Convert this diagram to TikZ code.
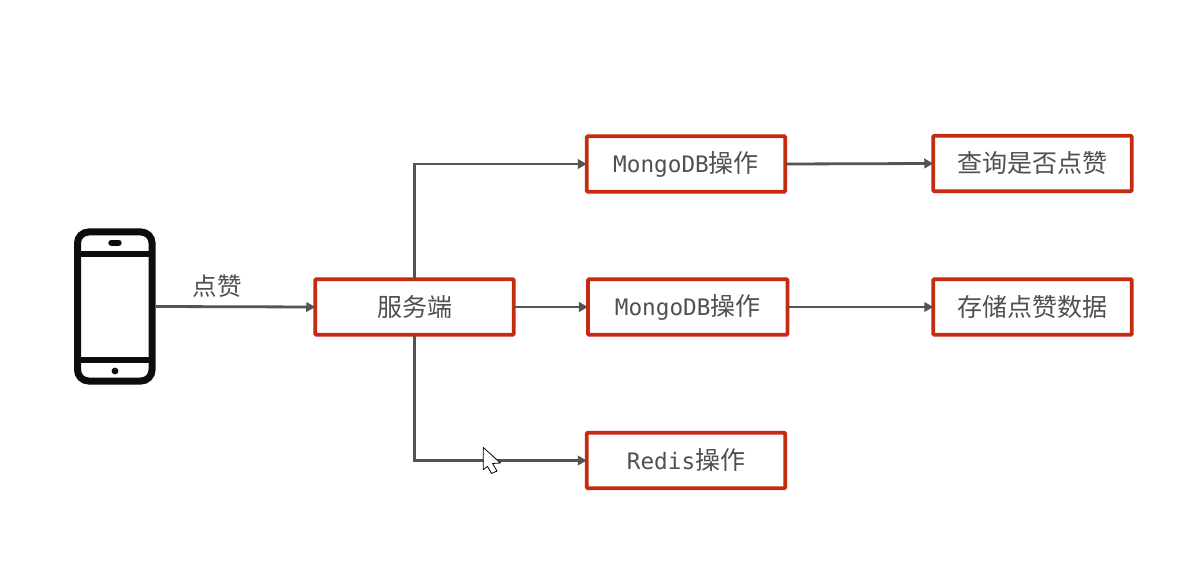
\documentclass[tikz,border=0pt]{standalone}
\usepackage{fontspec}
\setmainfont{Noto Sans CJK SC}
\newfontfamily\cjkf{Noto Sans CJK SC}
\setmonofont{DejaVu Sans Mono}
\usetikzlibrary{arrows.meta}
\definecolor{redb}{HTML}{C62A10}
\definecolor{linec}{HTML}{545454}
\definecolor{textc}{HTML}{505050}
\tikzset{
  box/.style={draw=redb,line width=3.8pt,fill=white,rounded corners=1pt,outer sep=0pt,inner sep=0pt,
    minimum width=198.5pt,minimum height=55.5pt,text=textc,font=\fontsize{25}{28}\selectfont},
  conn/.style={draw=linec,line width=2.8pt,-{Triangle[length=9pt,width=9.5pt]}},
  phonebar/.style={draw=black!95,line width=6.8pt}
}
\newcommand{\mono}[1]{{\ttfamily\fontsize{22.7}{28}\selectfont #1}}
\begin{document}
\begin{tikzpicture}[x=1pt,y=-1pt]
\useasboundingbox (0,0) rectangle (1178,564);
\fill[white] (0,0) rectangle (1178,564);
% phone
\node[draw=black!95,line width=7pt,rounded corners=11pt,minimum width=74.5pt,minimum height=149pt,outer sep=3.5pt,inner sep=0pt] (phone) at (114.8,306.5) {};
\coordinate (barAL) at (78,254);\coordinate (barAR) at (152,254);
\coordinate (barBL) at (78,360);\coordinate (barBR) at (152,360);
\draw[phonebar] (barAL) -- (barAR);
\draw[phonebar] (barBL) -- (barBR);
\draw[black!95,line width=6.5pt,line cap=round] (111.5,242.8) -- (118.5,242.8);
\fill[black!95] (115,371) circle (3.4pt);
% boxes
\node[box] (server) at (414.5,307) {服务端};
\node[box] (m1) at (686,164) {\mono{MongoDB}操作};
\node[box,minimum width=199.5pt] (m2) at (687.7,307) {\mono{MongoDB}操作};
\node[box] (redis) at (686,460.5) {\mono{Redis}操作};
\node[box] (q1) at (1032.5,163.5) {查询是否点赞};
\node[box] (q2) at (1032.5,307) {存储点赞数据};
% connectors
\draw[conn] (phone.east) -- (server.west);
\node[text=textc,font=\fontsize{24.5}{28}\selectfont,inner sep=0pt] (zan) at (217,286.5) {点赞};
\draw[conn] (server.north) |- (m1.west);
\draw[conn] (server.east) -- (m2.west);
\draw[conn] (server.south) |- (redis.west);
\draw[conn] (m1.east) -- (q1.west);
\draw[conn] (m2.east) -- (q2.west);
% cursor
\draw[black,fill=white,line width=0.8pt,line join=round] (483.3,447.5) -- (483.3,469.5) -- (487.5,466.5) -- (491.5,473.5) -- (497,471) -- (492.5,463.5) -- (500.5,463) -- cycle;
\end{tikzpicture}
\end{document}
